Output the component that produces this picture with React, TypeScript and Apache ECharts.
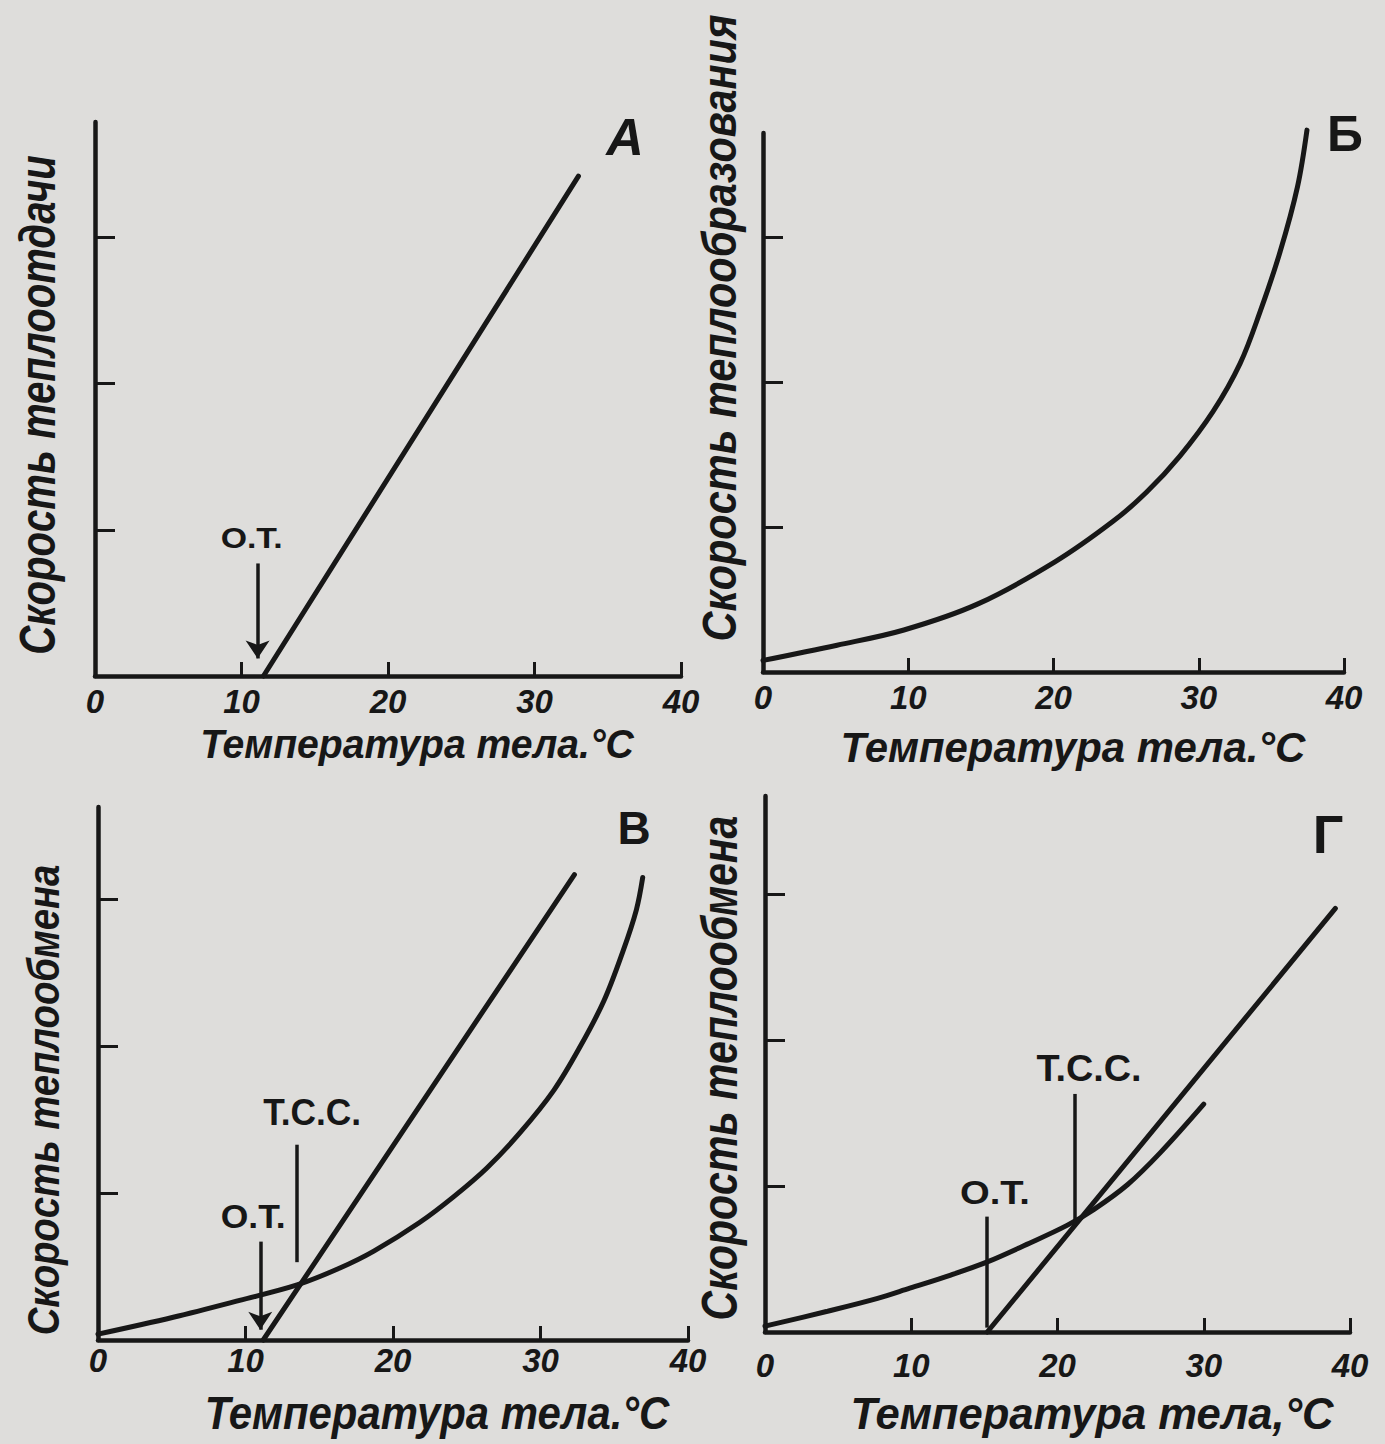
import React, { useEffect, useRef } from "react";
import * as echarts from "echarts";

const PAGE_W = 1385;
const PAGE_H = 1444;

const INK = "#171717";
const PAPER = "#dedddb";

// Шкала температуры тела, °C
const xTickValues = [0, 10, 20, 30, 40];
// Деления на осях скорости (без подписей)
const yTickValues = [1, 2, 3];

// А — скорость теплоотдачи
const lossA: number[][] = [[11.5, 0], [33.0, 3.42]];

// Б — скорость теплообразования
const productionB: number[][] = [
  [0, 0.08], [5.1, 0.185], [9.7, 0.29], [14.8, 0.47], [20.1, 0.76], [24.1, 1.04],
  [26.4, 1.24], [28.7, 1.49], [31.0, 1.8], [32.85, 2.13], [34.2, 2.48],
  [35.6, 2.9], [36.8, 3.35], [37.45, 3.74],
];

// В — теплоотдача и теплообразование
const lossV: number[][] = [[11.2, 0], [32.3, 3.17]];
const productionV: number[][] = [
  [0, 0.04], [5.1, 0.155], [9.6, 0.27], [13.5, 0.375], [16.4, 0.49], [18.7, 0.605],
  [21.8, 0.8], [24.1, 0.975], [26.35, 1.17], [28.6, 1.41], [30.9, 1.7],
  [32.7, 2.0], [34.3, 2.31], [35.6, 2.65], [36.5, 2.93], [36.93, 3.15],
];

// Г — теплоотдача и теплообразование
const lossG: number[][] = [[15.2, 0], [39.0, 2.9]];
const productionG: number[][] = [
  [0, 0.04], [4.2, 0.14], [7.7, 0.23], [9.9, 0.3], [12.7, 0.39], [15.2, 0.48],
  [17.9, 0.6], [20.65, 0.73], [22.5, 0.84], [24.8, 1.01], [27.05, 1.23], [30.0, 1.56],
];

// Указатели: О.Т. и Т.С.С.
type Pointer = { label: string; x: number; top: number; bottom: number; arrow: boolean };
const pointersA: Pointer[] = [{ label: "О.Т.", x: 11.1, top: 0.77, bottom: 0.12, arrow: true }];
const pointersB: Pointer[] = [];
const pointersV: Pointer[] = [
  { label: "О.Т.", x: 11.0, top: 0.67, bottom: 0.07, arrow: true },
  { label: "Т.С.С.", x: 13.5, top: 1.33, bottom: 0.53, arrow: false },
];
const pointersG: Pointer[] = [
  { label: "О.Т.", x: 15.18, top: 0.79, bottom: 0.03, arrow: false },
  { label: "Т.С.С.", x: 21.2, top: 1.63, bottom: 0.73, arrow: false },
];

const xTitleA = "Температура тела.°С";
const xTitleB = "Температура тела.°С";
const xTitleV = "Температура тела.°С";
const xTitleG = "Температура тела,°С";
const yTitleA = "Скорость теплоотдачи";
const yTitleB = "Скорость теплообразования";
const yTitleV = "Скорость теплообмена";
const yTitleG = "Скорость теплообмена";
const panelLetters = ["А", "Б", "В", "Г"];

const TEXT_FAMILY = "'Liberation Sans', 'DejaVu Sans', sans-serif";

// Геометрия панелей
const panels = [
  {
    grid: { left: 95, top: 122, width: 586, height: 554 }, yMax: 3.79, labelMargin: 9,
    curves: [{ data: lossA, smooth: false }], pointers: pointersA,
    xTitle: { text: xTitleA, cx: 417, cy: 744, along: 434, cap: 29 },
    yTitle: { text: yTitleA, cx: 38, cy: 405, along: 500, cap: 36 },
    letter: { cx: 625, cy: 137, size: 52, italic: true },
    notes: [{ dx: -6, dy: -26, along: 62, cap: 21 }],
  },
  {
    grid: { left: 763, top: 133, width: 581, height: 539 }, yMax: 3.72, labelMargin: 9,
    curves: [{ data: productionB, smooth: 0.35 }], pointers: pointersB,
    xTitle: { text: xTitleB, cx: 1073, cy: 747, along: 465, cap: 31 },
    yTitle: { text: yTitleB, cx: 720, cy: 328, along: 627, cap: 34 },
    letter: { cx: 1345, cy: 134, size: 50, italic: false },
    notes: [],
  },
  {
    grid: { left: 98, top: 807, width: 590, height: 533 }, yMax: 3.63, labelMargin: 4,
    curves: [{ data: lossV, smooth: false }, { data: productionV, smooth: 0.35 }], pointers: pointersV,
    xTitle: { text: xTitleV, cx: 437, cy: 1413, along: 465, cap: 33 },
    yTitle: { text: yTitleV, cx: 43, cy: 1100, along: 471, cap: 32 },
    letter: { cx: 634, cy: 828, size: 46, italic: false },
    notes: [{ dx: -7, dy: -25, along: 65, cap: 24 }, { dx: 15, dy: -33, along: 98, cap: 27 }],
  },
  {
    grid: { left: 765, top: 796, width: 585, height: 536 }, yMax: 3.67, labelMargin: 17,
    curves: [{ data: lossG, smooth: false }, { data: productionG, smooth: 0.35 }], pointers: pointersG,
    xTitle: { text: xTitleG, cx: 1092, cy: 1413, along: 483, cap: 32 },
    yTitle: { text: yTitleG, cx: 720, cy: 1068, along: 505, cap: 36 },
    letter: { cx: 1328, cy: 834, size: 54, italic: false },
    notes: [{ dx: 8, dy: -24, along: 70, cap: 24 }, { dx: 14, dy: -25, along: 105, cap: 26 }],
  },
];

let measureCtx: CanvasRenderingContext2D | null = null;
function textWidth(text: string, font: string): number {
  if (!measureCtx) measureCtx = document.createElement("canvas").getContext("2d");
  if (!measureCtx) return text.length * 20;
  measureCtx.font = font;
  return measureCtx.measureText(text).width;
}

// Текст, растянутый до заданной длины и высоты прописных букв
function fittedText(
  text: string, cx: number, cy: number, along: number, cap: number,
  opts: { rotate?: boolean; italic?: boolean; bold?: boolean } = {}
) {
  const size = 40;
  const fontStyle = opts.italic === false ? "normal" : "italic";
  const fontWeight = opts.bold === false ? "normal" : "bold";
  const w = textWidth(text, `${fontStyle} ${fontWeight} ${size}px ${TEXT_FAMILY}`);
  return {
    type: "text",
    x: cx,
    y: cy,
    rotation: opts.rotate ? Math.PI / 2 : 0,
    scaleX: along / w,
    scaleY: cap / (0.72 * size),
    silent: true,
    style: {
      text,
      fontSize: size,
      fontFamily: TEXT_FAMILY,
      fontStyle,
      fontWeight,
      fill: INK,
      align: "center",
      verticalAlign: "middle",
    },
  };
}

function buildOption() {
  const grid = panels.map((p) => ({ ...p.grid, containLabel: false }));
  const xAxis = panels.map((p, i) => ({
    type: "value",
    gridIndex: i,
    min: 0,
    max: 40,
    interval: 10,
    axisLine: { show: true, onZero: false, lineStyle: { color: INK, width: 4.5 } },
    axisTick: { show: true, inside: true, length: 14, lineStyle: { color: INK, width: 3 }, customValues: xTickValues.slice(1) },
    axisLabel: {
      show: true,
      margin: p.labelMargin,
      color: INK,
      fontSize: 33,
      fontStyle: "italic",
      fontWeight: "bold",
      fontFamily: TEXT_FAMILY,
      customValues: xTickValues,
      formatter: (v: number) => String(v),
    },
    splitLine: { show: false },
  }));
  const yAxis = panels.map((p, i) => ({
    type: "value",
    gridIndex: i,
    min: 0,
    max: p.yMax,
    axisLine: { show: true, onZero: false, lineStyle: { color: INK, width: 4.5 } },
    axisTick: { show: true, inside: true, length: 20, lineStyle: { color: INK, width: 3 }, customValues: yTickValues },
    axisLabel: { show: false },
    splitLine: { show: false },
  }));

  const series: any[] = [];
  panels.forEach((p, i) => {
    p.curves.forEach((c) => {
      series.push({
        type: "line",
        xAxisIndex: i,
        yAxisIndex: i,
        data: c.data,
        smooth: c.smooth,
        symbol: "none",
        clip: false,
        silent: true,
        lineStyle: { color: INK, width: 5, cap: "round" },
        z: 3,
      });
    });
    p.pointers.forEach((ptr) => {
      series.push({
        type: "line",
        xAxisIndex: i,
        yAxisIndex: i,
        data: [],
        silent: true,
        markLine: {
          silent: true,
          symbol: ["none", ptr.arrow ? "arrow" : "none"],
          symbolSize: 18,
          label: { show: false },
          lineStyle: { color: INK, width: 3.5, type: "solid" },
          emphasis: { disabled: true },
          data: [[{ coord: [ptr.x, ptr.top] }, { coord: [ptr.x, ptr.bottom] }]],
        },
      });
    });
  });

  return {
    animation: false,
    backgroundColor: PAPER,
    grid,
    xAxis,
    yAxis,
    series,
  };
}

function buildGraphics(chart: echarts.ECharts) {
  const elements: any[] = [];
  panels.forEach((p, i) => {
    elements.push(fittedText(p.xTitle.text, p.xTitle.cx, p.xTitle.cy, p.xTitle.along, p.xTitle.cap));
    elements.push(fittedText(p.yTitle.text, p.yTitle.cx, p.yTitle.cy, p.yTitle.along, p.yTitle.cap, { rotate: true }));
    elements.push({
      type: "text",
      x: p.letter.cx,
      y: p.letter.cy,
      silent: true,
      style: {
        text: panelLetters[i],
        fontSize: p.letter.size,
        fontFamily: TEXT_FAMILY,
        fontStyle: p.letter.italic ? "italic" : "normal",
        fontWeight: "bold",
        fill: INK,
        align: "center",
        verticalAlign: "middle",
      },
    });
    p.pointers.forEach((ptr, k) => {
      const pos = chart.convertToPixel({ gridIndex: i }, [ptr.x, ptr.top]) as number[];
      const n = p.notes[k];
      if (!pos || !n) return;
      elements.push(fittedText(ptr.label, pos[0] + n.dx, pos[1] + n.dy, n.along, n.cap, { italic: false, bold: true }));
    });
  });
  return elements;
}

export default function App() {
  const ref = useRef<HTMLDivElement>(null);
  useEffect(() => {
    const el = ref.current;
    if (!el) return;
    const chart = echarts.init(el, null, { renderer: "svg", width: PAGE_W, height: PAGE_H });
    chart.setOption(buildOption() as any);
    chart.setOption({ graphic: buildGraphics(chart) } as any);
    return () => chart.dispose();
  }, []);
  return (
    <div
      ref={ref}
      style={{ position: "absolute", left: 0, top: 0, width: PAGE_W, height: PAGE_H, background: PAPER }}
    />
  );
}
